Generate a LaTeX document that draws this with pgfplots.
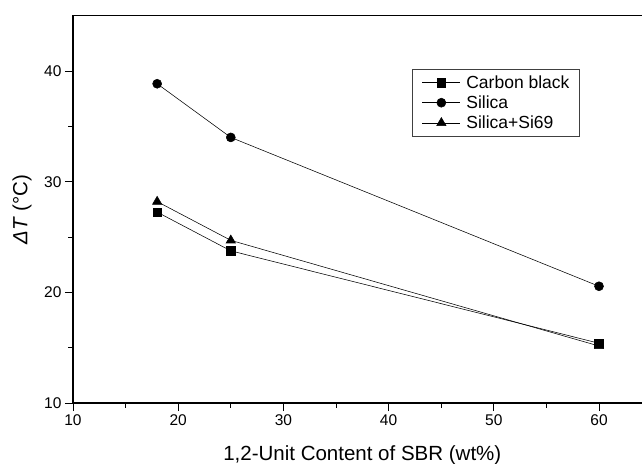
\documentclass[border=0pt]{standalone}
\usepackage{pgfplots}
\pgfplotsset{compat=1.18}
\usepackage{fontspec}
\setmainfont{Liberation Sans}
\newcommand{\legfont}{\fontsize{17.5bp}{21bp}\selectfont}
\newcommand{\tickfont}{\fontsize{15.5bp}{18bp}\selectfont}
\begin{document}
\begin{tikzpicture}
\begin{axis}[
  at={(0,0)}, anchor=south west,
  scale only axis,
  width=578.6bp, height=387.3bp,
  xmin=10, xmax=65, ymin=10, ymax=45,
  xtick={10,20,30,40,50,60},
  ytick={10,20,30,40},
  minor x tick num=1, minor y tick num=1,
  tick align=outside, tick pos=left,
  major tick length=8bp, minor tick length=4.5bp,
  axis line style={line width=1.1bp},
  every tick/.style={line width=1bp, black},
  /pgf/number format/assume math mode=true,
  xticklabel={\tickfont\pgfmathprintnumber{\tick}},
  yticklabel={\tickfont\pgfmathprintnumber{\tick}},
  xlabel={1,2-Unit Content of SBR (wt\%)},
  ylabel={\textit{ΔT} (°C)},
  label style={font=\fontsize{20.5bp}{24bp}\selectfont},
  xlabel style={at={(axis description cs:0.5,-0.1472)}, anchor=base},
  ylabel style={at={(axis description cs:-0.0881,0.5)}, anchor=center},
  legend style={at={(axis description cs:0.586,0.862)}, anchor=north west,
    draw=black!75, line width=0.6bp,
    nodes={inner sep=2bp},
    row sep=2bp, inner xsep=8bp, inner ysep=4bp},
  legend cell align=left,
  legend image code/.code={\path[draw=none] (0bp,-4bp) rectangle (44bp,4bp);\draw[mark repeat=2, mark phase=2] plot coordinates {(2bp,0bp)(21bp,0bp)(40bp,0bp)};},
  every axis plot/.append style={black, line width=0.55bp},
]
\addplot[mark=square*, mark size=4.3bp] coordinates {(18,27.25) (25,23.75) (60,15.4)};
\addlegendentry{\legfont Carbon black}
\addplot[mark=*, mark size=4.5bp] coordinates {(18,38.85) (25,34.0) (60,20.55)};
\addlegendentry{\legfont Silica}
\addplot[mark=triangle*, mark size=5.3bp] coordinates {(18,28.2) (25,24.7) (60,15.15)};
\addlegendentry{\legfont Silica+Si69}
\end{axis}
\pgfresetboundingbox
\path (-73bp,-61bp) rectangle (569bp,403bp);
\end{tikzpicture}
\end{document}
